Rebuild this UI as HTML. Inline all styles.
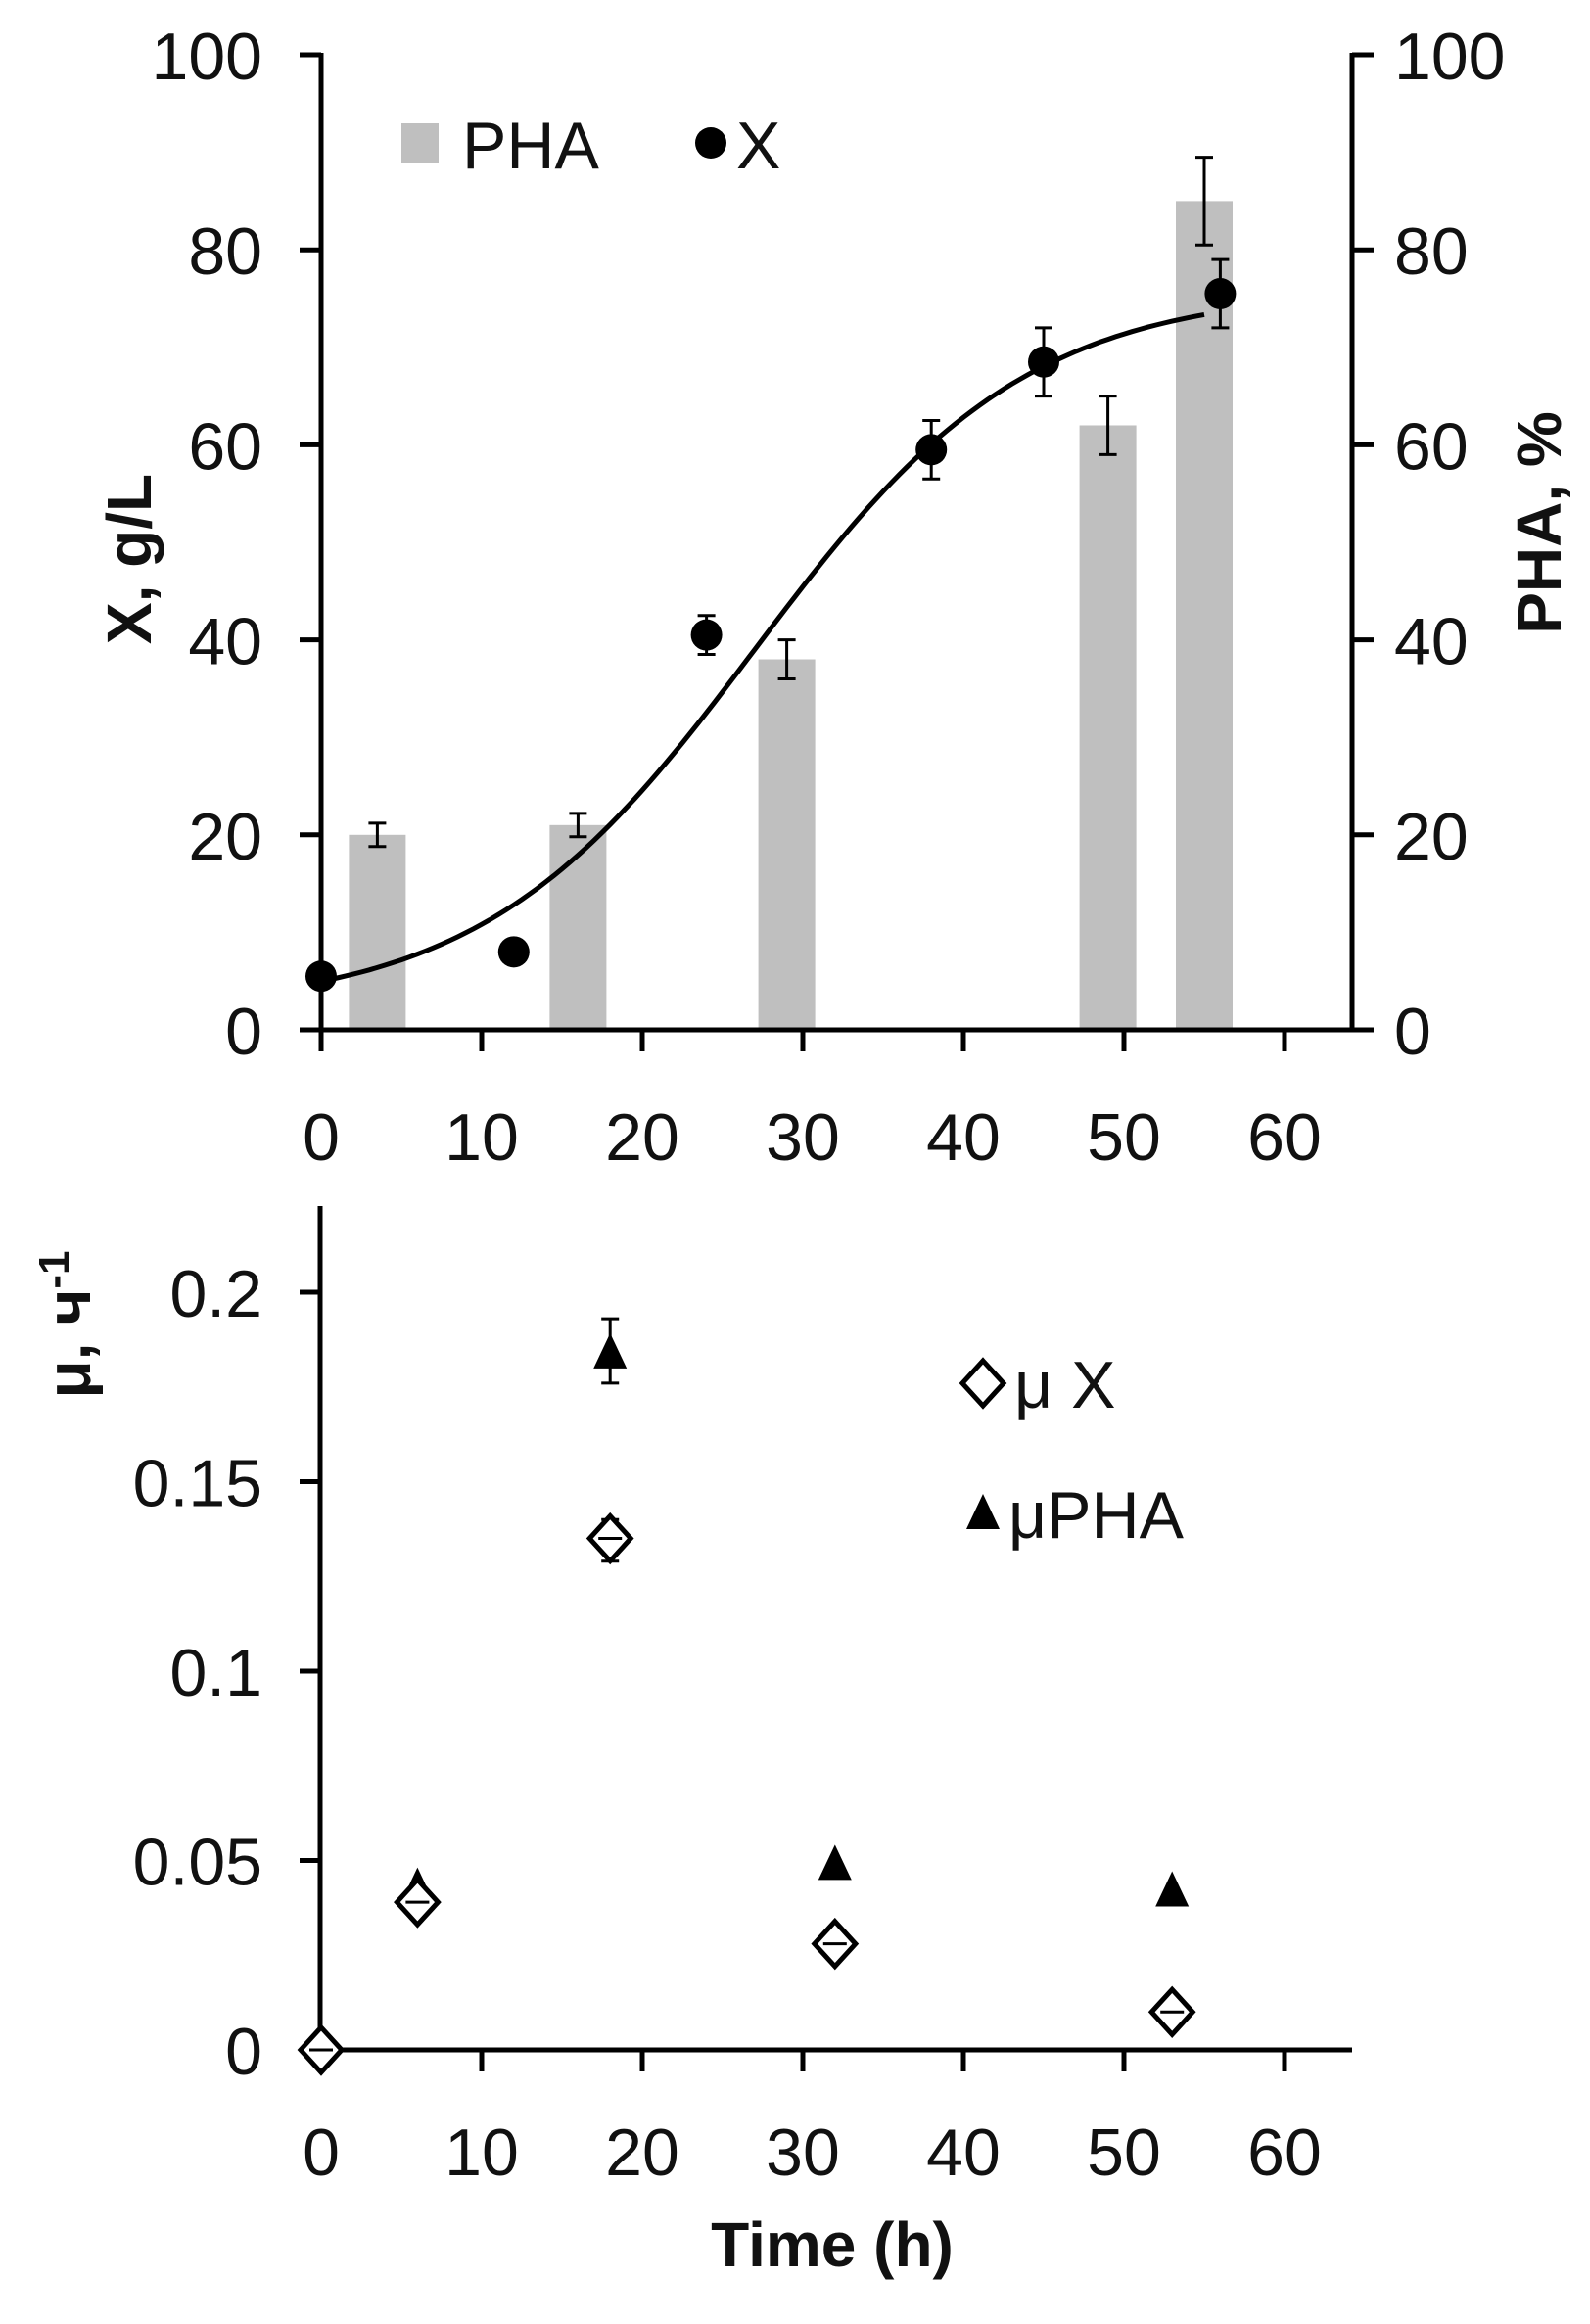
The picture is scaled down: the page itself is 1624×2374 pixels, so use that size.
<!DOCTYPE html>
<html><head><meta charset="utf-8"><style>
html,body{margin:0;padding:0;background:#fff;}
svg{display:block;}
text{font-family:"Liberation Sans","DejaVu Sans",sans-serif;fill:#111;}
.t{font-size:68px;}
.b{font-size:64px;font-weight:bold;}
</style></head><body>
<svg id="s" width="1624" height="2374" viewBox="0 0 1624 2374" xmlns="http://www.w3.org/2000/svg">
<g id="g"></g>
</svg>
<script>
var g=document.getElementById('g');var h='';
function X(t){return 328+16.4*t;}
function Y(v){return 1052-9.96*v;}
function YB(v){return 2094-3870*v;}
function L(x1,y1,x2,y2,w){h+='<line x1="'+x1+'" y1="'+y1+'" x2="'+x2+'" y2="'+y2+'" stroke="#000" stroke-width="'+(w||5)+'"/>';}
function T(x,y,s,a,c){h+='<text x="'+x+'" y="'+y+'" text-anchor="'+(a||'middle')+'" class="'+(c||'t')+'">'+s+'</text>';}
function E(x,y1,y2){L(x,y1,x,y2,3);L(x-9,y1,x+9,y1,3);L(x-9,y2,x+9,y2,3);}
var bars=[[3.5,20,1.2],[16,21,1.2],[29,38,2],[49,62,3],[55,85,4.5]];
bars.forEach(function(b){var x=X(b[0]);h+='<rect x="'+(x-29)+'" y="'+Y(b[1])+'" width="58" height="'+(Y(0)-Y(b[1]))+'" fill="#bfbfbf"/>';E(x,Y(b[1]+b[2]),Y(b[1]-b[2]));});
L(328,54,328,1054);L(1381,54,1381,1054);L(326,1052,1383,1052);
for(var v=0;v<=100;v+=20){L(306,Y(v),328,Y(v));L(1381,Y(v),1403,Y(v));T(268,Y(v)+25,v,'end');T(1424,Y(v)+25,v,'start');}
for(var t=0;t<=60;t+=10){L(X(t),1052,X(t),1074);T(X(t),1185,t);}
var p='';for(var t=0;t<=55;t+=0.5){var y=2+74/(1+Math.exp(-(t-27)/8.5));p+=(t?'L':'M')+X(t).toFixed(1)+' '+Y(y).toFixed(1);}
h+='<path d="'+p+'" fill="none" stroke="#000" stroke-width="5"/>';
var pts=[[0,5.5,0],[12,8,0],[24,40.5,2],[38,59.5,3],[45,68.5,3.5],[56,75.5,3.5]];
pts.forEach(function(q){if(q[2])E(X(q[0]),Y(q[1]+q[2]),Y(q[1]-q[2]));h+='<circle cx="'+X(q[0])+'" cy="'+Y(q[1])+'" r="16" fill="#000"/>';});
h+='<rect x="410" y="126" width="38" height="40" fill="#bfbfbf"/>';T(472,172,'PHA','start');
h+='<circle cx="726" cy="146" r="16" fill="#000"/>';T(752,172,'X','start');
h+='<text transform="translate(154,571) rotate(-90)" text-anchor="middle" class="b">X, g/L</text>';
h+='<text transform="translate(1594,534) rotate(-90)" text-anchor="middle" class="b">PHA, %</text>';
L(327,1232,327,2096);L(325,2094,1381,2094);
[0,0.05,0.1,0.15,0.2].forEach(function(v){L(306,YB(v),327,YB(v));T(268,YB(v)+25,v,'end');});
for(var t=0;t<=60;t+=10){L(X(t),2094,X(t),2116);T(X(t),2222,t);}
function D(x,y){h+='<path d="M'+x+' '+(y-23)+'L'+(x+21)+' '+y+'L'+x+' '+(y+23)+'L'+(x-21)+' '+y+'Z" fill="#fff" stroke="#000" stroke-width="5"/>';}
function Tr(x,y){h+='<path d="M'+x+' '+(y-20)+'L'+(x+17)+' '+(y+16)+'L'+(x-17)+' '+(y+16)+'Z" fill="#000"/>';}
E(X(18),YB(0.193),YB(0.176));
Tr(X(6),YB(0.043));Tr(X(18),YB(0.184));Tr(X(32),YB(0.049));Tr(X(53),YB(0.042));
E(X(18),YB(0.14),YB(0.129));
[[0,0],[6,0.039],[18,0.135],[32,0.028],[53,0.01]].forEach(function(q){D(X(q[0]),YB(q[1]));L(X(q[0])-12,YB(q[1]),X(q[0])+12,YB(q[1]),3);});
D(1004,1413);T(1036,1438,'μ X','start');
Tr(1004,1546);T(1030,1571,'μPHA','start');
h+='<text transform="translate(92,1353) rotate(-90)" text-anchor="middle" class="b">μ, ч<tspan dy="-22" font-size="44">-1</tspan></text>';
h+='<text x="850" y="2315" text-anchor="middle" class="b" font-size="70">Time (h)</text>';
g.innerHTML=h;
</script>
</body></html>
